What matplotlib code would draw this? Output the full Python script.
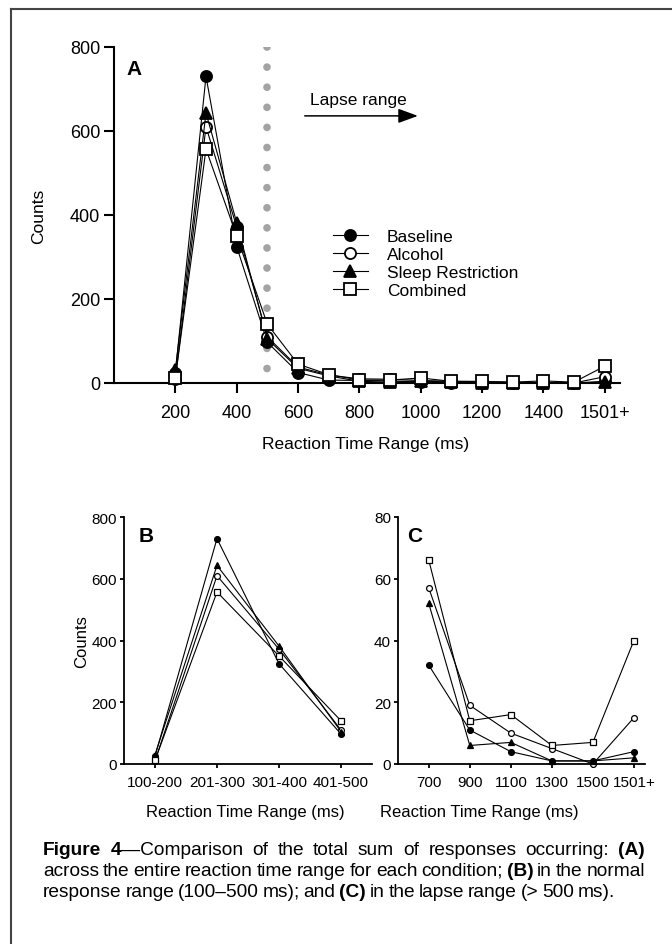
import matplotlib
matplotlib.use("Agg")
import matplotlib.pyplot as plt
from matplotlib.lines import Line2D

plt.rcParams['font.family'] = ['Liberation Sans', 'DejaVu Sans']
NARROW = ['Liberation Sans Narrow', 'Liberation Sans', 'DejaVu Sans']

# ---- data ----
# panel A: 100 ms bins, last one is 1501+
a_pos = [200, 300, 400, 500, 600, 700, 800, 900, 1000, 1100, 1200, 1300, 1400, 1500, 1600]
a_ticks = [200, 400, 600, 800, 1000, 1200, 1400, 1600]
a_ticklabels = ['200', '400', '600', '800', '1000', '1200', '1400', '1501+']

baseline_a = [25, 730, 325, 97, 25, 7, 6, 5, 3, 1, 1, 0, 1, 0, 4]
alcohol_a = [10, 610, 372, 110, 38, 19, 10, 9, 6, 4, 3, 2, 0, 0, 15]
sleep_a = [30, 643, 382, 105, 35, 17, 4, 2, 5, 2, 1, 0, 1, 0, 2]
combined_a = [12, 557, 350, 140, 45, 20, 7, 7, 12, 4, 4, 2, 5, 2, 40]

# panel B: normal response range
b_labels = ['100-200', '201-300', '301-400', '401-500']
baseline_b = [25, 730, 325, 97]
alcohol_b = [10, 610, 372, 110]
sleep_b = [30, 643, 382, 105]
combined_b = [12, 557, 350, 140]

# panel C: lapse range, 200 ms bins
c_labels = ['700', '900', '1100', '1300', '1500', '1501+']
baseline_c = [32, 11, 4, 1, 1, 4]
alcohol_c = [57, 19, 10, 5, 0, 15]
sleep_c = [52, 6, 7, 1, 1, 2]
combined_c = [66, 14, 16, 6, 7, 40]

names = ['Baseline', 'Alcohol', 'Sleep Restriction', 'Combined']
markers = ['o', 'o', '^', 's']
faces = ['black', 'white', 'black', 'white']

W, H = 672, 945
fig = plt.figure(figsize=(W / 100, H / 100), dpi=100)


def frac(x0, y0, x1, y1):
    # pixel box (top-left origin) -> figure fraction rect
    return [x0 / W, 1 - y1 / H, (x1 - x0) / W, (y1 - y0) / H]


def style_axes(ax, lw, ticklen):
    for s in ['top', 'right']:
        ax.spines[s].set_visible(False)
    for s in ['left', 'bottom']:
        ax.spines[s].set_linewidth(lw)
    ax.tick_params(direction='out', length=ticklen, width=lw, colors='black')


# ---- panel A ----
axA = fig.add_axes(frac(114, 48, 620, 384))
style_axes(axA, 1.5, 7)
axA.set_xlim(0, 1650)
axA.set_ylim(0, 800)
axA.set_yticks([0, 200, 400, 600, 800])
axA.set_xticks(a_ticks)
axA.set_xticklabels(a_ticklabels)
axA.tick_params(axis='x', pad=8)
axA.tick_params(axis='y', pad=3)
for lab in axA.get_xticklabels() + axA.get_yticklabels():
    lab.set_family(NARROW)
    lab.set_fontsize(13)

# dotted boundary of lapse range
axA.plot([500, 500], [800, 30], color='#a3a3a3', lw=5.5,
         linestyle=(0, (0.01, 2.62)), dash_capstyle='round', zorder=1)

series_a = [baseline_a, alcohol_a, sleep_a, combined_a]
for vals, nm, mk, fc in zip(series_a, names, markers, faces):
    ms = 8.5 if mk == '^' else 8
    axA.plot(a_pos, vals, color='black', lw=0.8, marker=mk, markersize=ms,
             markerfacecolor=fc, markeredgecolor='black', markeredgewidth=1.3,
             label=nm, clip_on=False, zorder=3)

leg = axA.legend(loc='upper left', bbox_to_anchor=(0.433, 0.46), frameon=False,
                 fontsize=12.5, handlelength=2.0, handletextpad=1.1,
                 labelspacing=0.18, borderpad=0, borderaxespad=0)

axA.annotate('', xy=(1000, 636), xytext=(613, 636),
             arrowprops=dict(arrowstyle='-|>,head_length=0.6,head_width=0.22',
                             mutation_scale=20, lw=1.1, color='black'))
axA.text(638, 676, 'Lapse range', fontsize=12.5, ha='left', va='center')
axA.text(0.024, 0.935, 'A', transform=axA.transAxes, fontsize=15,
         fontweight='bold', ha='left', va='center')

axA.set_ylabel('Counts', fontsize=12.5)
axA.yaxis.set_label_coords(-0.135, 0.5)
axA.set_xlabel('Reaction Time Range (ms)', fontsize=12.5)
axA.xaxis.set_label_coords(0.498, -0.158)

# ---- panel B ----
axB = fig.add_axes(frac(124, 518, 372, 765))
style_axes(axB, 1.3, 3)
axB.set_xlim(-0.5, 3.5)
axB.set_ylim(0, 800)
axB.set_yticks([0, 200, 400, 600, 800])
axB.set_xticks(range(len(b_labels)))
axB.set_xticklabels(b_labels)
axB.tick_params(axis='x', pad=5)
axB.tick_params(axis='y', pad=2)
for lab in axB.get_xticklabels() + axB.get_yticklabels():
    lab.set_family(NARROW)
    lab.set_fontsize(11)

xb = list(range(len(b_labels)))
for vals, mk, fc in zip([baseline_b, alcohol_b, sleep_b, combined_b], markers, faces):
    axB.plot(xb, vals, color='black', lw=0.8, marker=mk, markersize=4.2,
             markerfacecolor=fc, markeredgecolor='black', markeredgewidth=0.9,
             clip_on=False, zorder=3)
axB.text(0.06, 0.927, 'B', transform=axB.transAxes, fontsize=15,
         fontweight='bold', ha='left', va='center')
axB.set_ylabel('Counts', fontsize=12)
axB.yaxis.set_label_coords(-0.14, 0.5)
axB.set_xlabel('Reaction Time Range (ms)', fontsize=12)
axB.xaxis.set_label_coords(0.49, -0.16)

# ---- panel C ----
axC = fig.add_axes(frac(398, 518, 645, 765))
style_axes(axC, 1.3, 3)
axC.set_xlim(-0.75, 5.27)
axC.set_ylim(0, 80)
axC.set_yticks([0, 20, 40, 60, 80])
axC.set_xticks(range(len(c_labels)))
axC.set_xticklabels(c_labels)
axC.tick_params(axis='x', pad=5)
axC.tick_params(axis='y', pad=2)
for lab in axC.get_xticklabels() + axC.get_yticklabels():
    lab.set_family(NARROW)
    lab.set_fontsize(11)

xc = list(range(len(c_labels)))
for vals, mk, fc in zip([baseline_c, alcohol_c, sleep_c, combined_c], markers, faces):
    axC.plot(xc, vals, color='black', lw=0.8, marker=mk, markersize=4.2,
             markerfacecolor=fc, markeredgecolor='black', markeredgewidth=0.9,
             clip_on=False, zorder=3)
axC.text(0.036, 0.927, 'C', transform=axC.transAxes, fontsize=15,
         fontweight='bold', ha='left', va='center')
axC.set_xlabel('Reaction Time Range (ms)', fontsize=12)
axC.xaxis.set_label_coords(0.33, -0.16)

# ---- frame ----
fig.add_artist(Line2D([11 / W, 11 / W], [0, 1 - 10 / H], transform=fig.transFigure,
                      color='#444444', lw=1.5))
fig.add_artist(Line2D([11 / W, 1], [1 - 10 / H, 1 - 10 / H], transform=fig.transFigure,
                      color='#444444', lw=1.5))

# ---- caption (justified, mixed bold) ----
cap_lines = [
    [("Figure 4", True), ("—Comparison of the total sum of responses occurring: ", False), ("(A)", True)],
    [("across the entire reaction time range for each condition; ", False), ("(B)", True),
     (" in the normal", False)],
    [("response range (100–500 ms); and ", False), ("(C)", True),
     (" in the lapse range (> 500 ms).", False)],
]
cap_justify = [True, True, False]
cap_base = [855, 876, 897]
cap_x0, cap_x1 = 43, 645

renderer = fig.canvas.get_renderer()


def tw(s, bold, fs):
    t = fig.text(0, 0, s, fontsize=fs, family=NARROW, fontweight='bold' if bold else 'normal')
    w = t.get_window_extent(renderer).width
    t.remove()
    return w


def tokens_of(segs):
    toks = []
    pend = False
    for text, bold in segs:
        parts = text.split(' ')
        for i, p in enumerate(parts):
            if i > 0:
                pend = True
            if p == '':
                continue
            toks.append((p, bold, pend and len(toks) > 0))
            pend = False
    return toks


def natural(segs, fs, sp):
    toks = tokens_of(segs)
    return sum(tw(p, b, fs) for p, b, g in toks) + sp * sum(g for _, _, g in toks)


# the second line is set tight in the original: size the font so it just fits
fs0 = 12
sp0 = tw('x x', False, fs0) - tw('xx', False, fs0)
cap_fs = fs0 * (cap_x1 - cap_x0) / natural(cap_lines[1], fs0, sp0 * 0.7)
space_w = (tw('x x', False, cap_fs) - tw('xx', False, cap_fs)) * 0.7

for segs, just, yb in zip(cap_lines, cap_justify, cap_base):
    toks = tokens_of(segs)
    widths = [tw(p, b, cap_fs) for p, b, g in toks]
    ngap = sum(g for _, _, g in toks)
    gap = (cap_x1 - cap_x0 - sum(widths)) / ngap if just else space_w
    x = cap_x0
    for (p, b, g), w in zip(toks, widths):
        if g:
            x += gap
        fig.text(x / W, 1 - yb / H, p, fontsize=cap_fs, family=NARROW,
                 fontweight='bold' if b else 'normal', ha='left', va='baseline')
        x += w

fig.savefig('out.png', dpi=100)
